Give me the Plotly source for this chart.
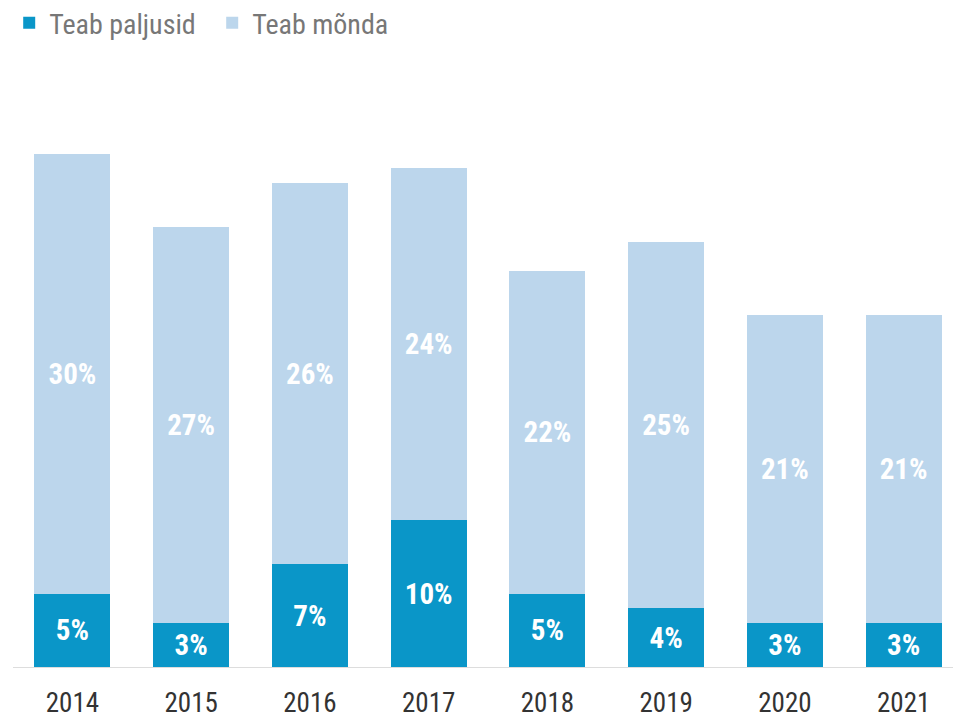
import plotly.graph_objects as go

years = ["2014", "2015", "2016", "2017", "2018", "2019", "2020", "2021"]
teab_paljusid = [5, 3, 7, 10, 5, 4, 3, 3]
teab_monda = [30, 27, 26, 24, 22, 25, 21, 21]

dark = "#0A96C8"
light = "#BCD6EC"
font_family = "Roboto Condensed, Liberation Sans Narrow, Roboto, sans-serif"

fig = go.Figure()
fig.add_trace(go.Bar(
    x=years, y=teab_paljusid, name="Teab paljusid",
    marker=dict(color=dark, line=dict(width=0)),
    text=[f"{v}%" for v in teab_paljusid],
    textposition="inside", insidetextanchor="middle",
    textfont=dict(color="white", size=29, family=font_family, weight="bold"),
    hoverinfo="skip",
))
fig.add_trace(go.Bar(
    x=years, y=teab_monda, name="Teab mõnda",
    marker=dict(color=light, line=dict(width=0)),
    text=[f"{v}%" for v in teab_monda],
    textposition="inside", insidetextanchor="middle",
    textfont=dict(color="white", size=29, family=font_family, weight="bold"),
    hoverinfo="skip",
))

fig.update_layout(
    barmode="stack",
    bargap=0.36,
    width=961, height=722,
    margin=dict(l=5, r=6, t=92, b=63, autoexpand=False),
    paper_bgcolor="white", plot_bgcolor="white",
    font=dict(family=font_family),
    showlegend=True,
    legend=dict(
        orientation="h", x=-0.004, xanchor="left", y=1.18, yanchor="top",
        font=dict(size=28, color="#777777", family=font_family),
        traceorder="normal",
        entrywidth=158, entrywidthmode="pixels",
    ),
    xaxis=dict(
        showline=True, linecolor="#DDDDDD", linewidth=1,
        ticks="", showgrid=False,
        ticklabelstandoff=12,
        tickfont=dict(size=27, color="#333333", family=font_family),
    ),
    yaxis=dict(
        range=[0, 38.65], visible=False, showgrid=False, zeroline=False,
    ),
)

fig.write_html("out.html")
